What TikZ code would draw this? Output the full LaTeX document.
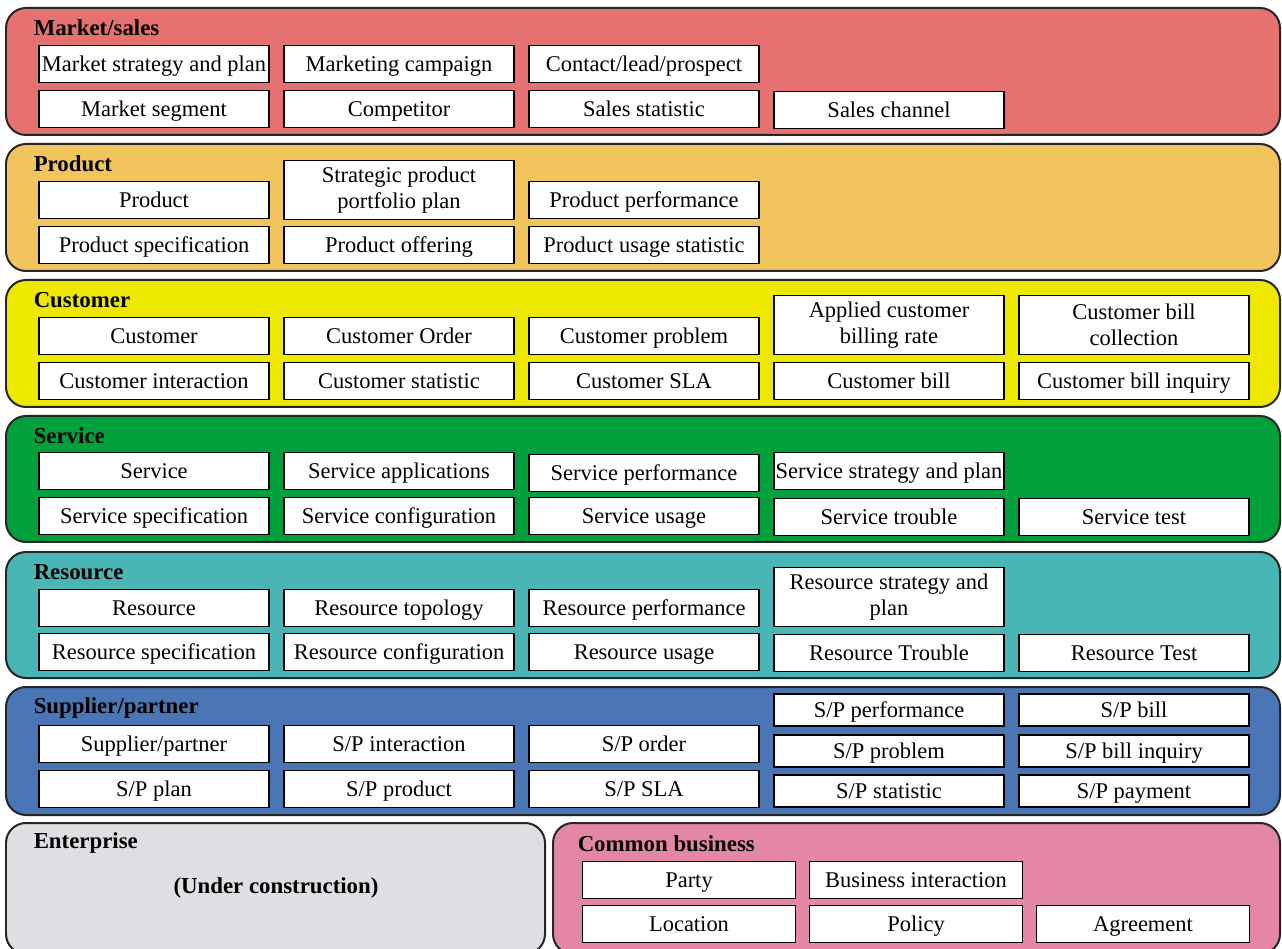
\documentclass[tikz,border=0pt]{standalone}
\usepackage{fontspec}
\setmainfont{Liberation Serif}
\definecolor{marketred}{RGB}{230,113,113}
\definecolor{productorange}{RGB}{242,196,94}
\definecolor{customeryellow}{RGB}{238,232,0}
\definecolor{servicegreen}{RGB}{0,160,60}
\definecolor{resourceteal}{RGB}{74,181,181}
\definecolor{supplierblue}{RGB}{74,118,181}
\definecolor{enterprisegray}{RGB}{222,223,227}
\definecolor{commonpink}{RGB}{227,134,168}
\begin{document}
\begin{tikzpicture}[
        x = 0.02cm, y = -0.02cm,
        line width = 0.3mm,
        band/.style = {draw = black!85, line width = 0.4mm, rounded corners = 0.4cm},
        cell/.style = {draw, fill = white, line width = 0.35mm, minimum width = 4.6cm, minimum height = 0.74cm, inner sep = 0pt, align = center, font = \fontsize{12.8}{15}\selectfont},
        entity/.style = {cell, text height = 10pt, text depth = 2pt},
        tall/.style = {cell, minimum height = 1.18cm},
        slim/.style = {minimum height = 0.64cm},
        narrow/.style = {minimum width = 4.26cm},
        title/.style = {anchor = base west, inner sep = 0pt, font = \fontsize{13}{15}\selectfont\bfseries}
    ]
        \useasboundingbox (0,0) rectangle (1282,949);
        \clip (0,0) rectangle (1282,949);
        \fill[white] (0,0) rectangle (1282,949);

        % bands
        \draw[band, fill = marketred] (6,8) rectangle (1280,135);
        \draw[band, fill = productorange] (6,144) rectangle (1280,271);
        \draw[band, fill = customeryellow] (6,280) rectangle (1280,407);
        \draw[band, fill = servicegreen] (6,416) rectangle (1280,542);
        \draw[band, fill = resourceteal] (6,552) rectangle (1280,678);
        \draw[band, fill = supplierblue] (6,687) rectangle (1280,815);
        \draw[band, fill = enterprisegray] (6,823) rectangle (545,954);
        \draw[band, fill = commonpink] (553,823) rectangle (1280,954);

        % titles
        \node[title] (tmarket) at (33,36) {Market/sales};
        \node[title] (tproduct) at (33,172) {Product};
        \node[title] (tcustomer) at (33,308) {Customer};
        \node[title] (tservice) at (33,444) {Service};
        \node[title] (tresource) at (33,580) {Resource};
        \node[title] (tsupplier) at (33,713) {Supplier/partner};
        \node[title] (tenterprise) at (33,848) {Enterprise};
        \node[title] (tcommon) at (577,851) {Common business};
        \node[inner sep = 0pt, font = \fontsize{13}{15}\selectfont\bfseries] (construction) at (276,888) {(Under construction)};

        % market/sales
        \node[entity] (mktplan) at (154,64) {Market strategy and plan};
        \node[entity] (campaign) at (399,64) {Marketing campaign};
        \node[entity] (lead) at (644,64) {Contact/lead/prospect};
        \node[entity] (segment) at (154,109) {Market segment};
        \node[entity] (competitor) at (399,109) {Competitor};
        \node[entity] (salesstat) at (644,109) {Sales statistic};
        \node[entity] (channel) at (889,110) {Sales channel};

        % product
        \node[entity] (product) at (154,200) {Product};
        \node[tall] (portfolio) at (399,190) {Strategic product\\portfolio plan};
        \node[entity] (prodperf) at (644,200) {Product performance};
        \node[entity] (prodspec) at (154,245) {Product specification};
        \node[entity] (offering) at (399,245) {Product offering};
        \node[entity] (produsage) at (644,245) {Product usage statistic};

        % customer
        \node[entity] (customer) at (154,336) {Customer};
        \node[entity] (custorder) at (399,336) {Customer Order};
        \node[entity] (custproblem) at (644,336) {Customer problem};
        \node[tall] (billrate) at (889,325) {Applied customer\\billing rate};
        \node[tall] (billcoll) at (1134,325) {Customer bill\\collection};
        \node[entity] (custinter) at (154,381) {Customer interaction};
        \node[entity] (custstat) at (399,381) {Customer statistic};
        \node[entity] (custsla) at (644,381) {Customer SLA};
        \node[entity] (custbill) at (889,381) {Customer bill};
        \node[entity] (billinq) at (1134,381) {Customer bill inquiry};

        % service
        \node[entity] (service) at (154,471) {Service};
        \node[entity] (servapp) at (399,471) {Service applications};
        \node[entity] (servperf) at (644,473) {Service performance};
        \node[entity] (servplan) at (889,471) {Service strategy and plan};
        \node[entity] (servspec) at (154,516) {Service specification};
        \node[entity] (servconf) at (399,516) {Service configuration};
        \node[entity] (servusage) at (644,516) {Service usage};
        \node[entity] (servtrouble) at (889,517) {Service trouble};
        \node[entity] (servtest) at (1134,517) {Service test};

        % resource
        \node[entity] (resource) at (154,608) {Resource};
        \node[entity] (restopo) at (399,608) {Resource topology};
        \node[entity] (resperf) at (644,608) {Resource performance};
        \node[tall] (resplan) at (889,597) {Resource strategy and\\plan};
        \node[entity] (resspec) at (154,652) {Resource specification};
        \node[entity] (resconf) at (399,652) {Resource configuration};
        \node[entity] (resusage) at (644,652) {Resource usage};
        \node[entity] (restrouble) at (889,653) {Resource Trouble};
        \node[entity] (restest) at (1134,653) {Resource Test};

        % supplier/partner
        \node[entity] (supplier) at (154,744) {Supplier/partner};
        \node[entity] (spinter) at (399,744) {S/P interaction};
        \node[entity] (sporder) at (644,744) {S/P order};
        \node[entity] (spplan) at (154,789) {S/P plan};
        \node[entity] (spproduct) at (399,789) {S/P product};
        \node[entity] (spsla) at (644,789) {S/P SLA};
        \node[entity, slim] (spperf) at (889,710) {S/P performance};
        \node[entity, slim] (spproblem) at (889,751) {S/P problem};
        \node[entity, slim] (spstat) at (889,791) {S/P statistic};
        \node[entity, slim] (spbill) at (1134,710) {S/P bill};
        \node[entity, slim] (spbillinq) at (1134,751) {S/P bill inquiry};
        \node[entity, slim] (sppayment) at (1134,791) {S/P payment};

        % common business
        \node[entity, narrow] (party) at (689,880) {Party};
        \node[entity, narrow] (businter) at (916,880) {Business interaction};
        \node[entity, narrow] (location) at (689,924) {Location};
        \node[entity, narrow] (policy) at (916,924) {Policy};
        \node[entity, narrow] (agreement) at (1143,924) {Agreement};
    \end{tikzpicture}
\end{document}
